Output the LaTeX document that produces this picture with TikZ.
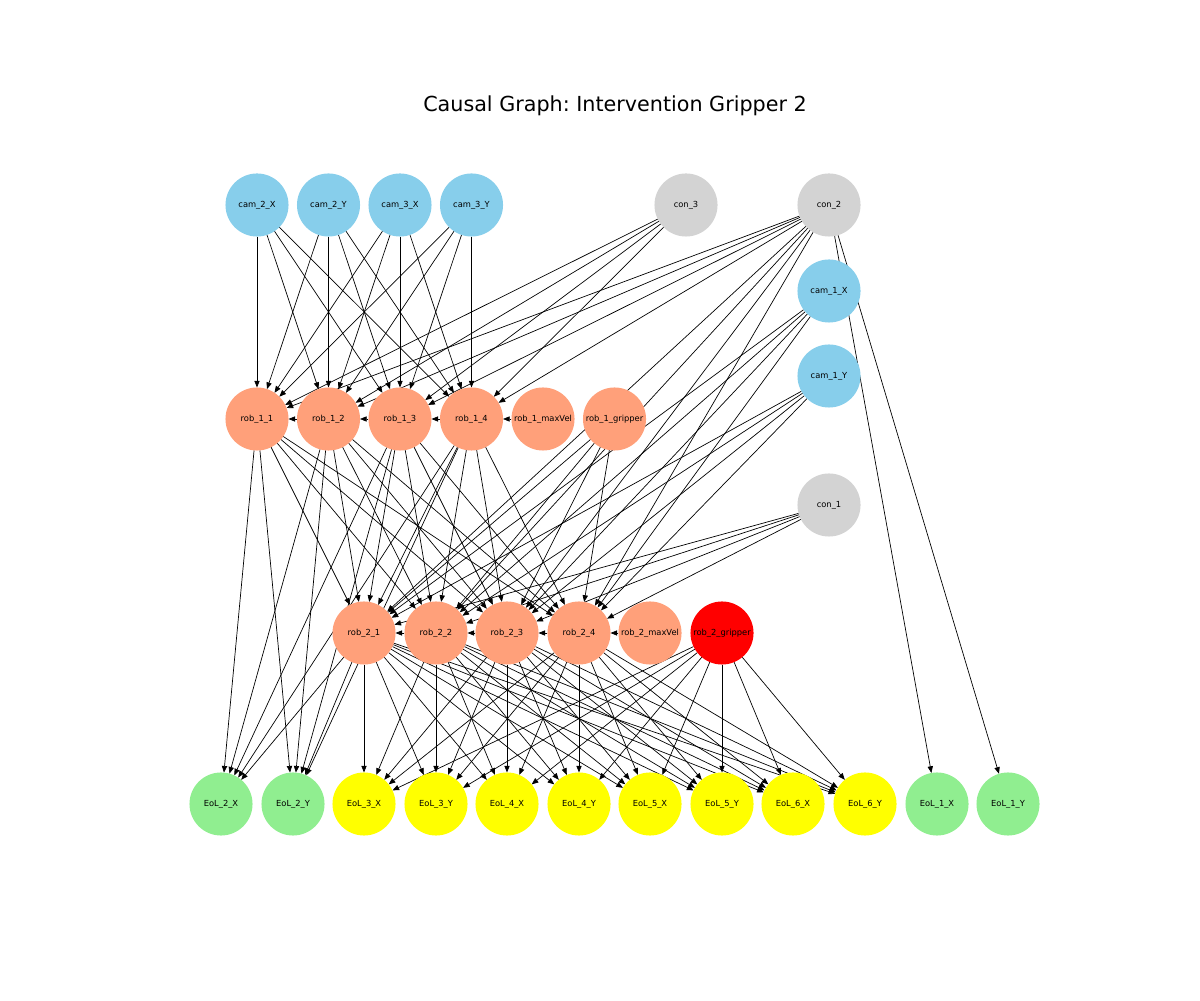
\documentclass[tikz,border=0pt]{standalone}
\usepackage{fontspec}
\setmainfont{DejaVu Sans}
\usetikzlibrary{arrows.meta,backgrounds}
\frenchspacing

\definecolor{skyblue}{RGB}{135,206,235}
\definecolor{lsalmon}{RGB}{255,160,122}
\definecolor{lgray}{RGB}{211,211,211}
\definecolor{lgreen}{RGB}{144,238,144}
\definecolor{pyellow}{RGB}{255,255,0}
\definecolor{pred}{RGB}{255,0,0}

\tikzset{
  var/.style={circle,minimum size=45.4pt,inner sep=0pt,outer sep=0pt,font=\fontsize{6}{7}\selectfont},
  cam/.style={var,fill=skyblue},
  con/.style={var,fill=lgray},
  rob/.style={var,fill=lsalmon},
  eolg/.style={var,fill=lgreen},
  eoly/.style={var,fill=pyellow},
  edge/.style={-{Triangle[length=4.8pt,width=3.8pt]},line width=0.5pt}
}

\begin{document}
\begin{tikzpicture}[x=0.72pt,y=0.72pt]
\useasboundingbox (0,0) rectangle (1200,1000);
\node[font=\fontsize{14.9}{17}\selectfont] (title) at (615,894) {Causal Graph: Intervention Gripper 2};

% cameras and contexts
\node[cam] (cam2x) at (257,795) {cam\_2\_X};
\node[cam] (cam2y) at (328.5,795) {cam\_2\_Y};
\node[cam] (cam3x) at (400,795) {cam\_3\_X};
\node[cam] (cam3y) at (471.5,795) {cam\_3\_Y};
\node[con] (con3) at (686,795) {con\_3};
\node[con] (con2) at (829,795) {con\_2};
\node[cam] (cam1x) at (829,709) {cam\_1\_X};
\node[cam] (cam1y) at (829,624) {cam\_1\_Y};
\node[con] (con1) at (829,495) {con\_1};

% robot 1
\node[rob] (rob11) at (257,581) {rob\_1\_1};
\node[rob] (rob12) at (328.5,581) {rob\_1\_2};
\node[rob] (rob13) at (400,581) {rob\_1\_3};
\node[rob] (rob14) at (471.5,581) {rob\_1\_4};
\node[rob] (rob1max) at (543,581) {rob\_1\_maxVel};
\node[rob] (rob1grip) at (614.5,581) {rob\_1\_gripper};

% robot 2
\node[rob] (rob21) at (364,367) {rob\_2\_1};
\node[rob] (rob22) at (436,367) {rob\_2\_2};
\node[rob] (rob23) at (507,367) {rob\_2\_3};
\node[rob] (rob24) at (579,367) {rob\_2\_4};
\node[rob] (rob2max) at (650,367) {rob\_2\_maxVel};
\node[var,fill=pred] (rob2grip) at (722,367) {rob\_2\_gripper};

% end of links
\node[eolg] (eol2x) at (221,196) {EoL\_2\_X};
\node[eolg] (eol2y) at (293,196) {EoL\_2\_Y};
\node[eoly] (eol3x) at (364,196) {EoL\_3\_X};
\node[eoly] (eol3y) at (436,196) {EoL\_3\_Y};
\node[eoly] (eol4x) at (507,196) {EoL\_4\_X};
\node[eoly] (eol4y) at (579,196) {EoL\_4\_Y};
\node[eoly] (eol5x) at (650,196) {EoL\_5\_X};
\node[eoly] (eol5y) at (722,196) {EoL\_5\_Y};
\node[eoly] (eol6x) at (793,196) {EoL\_6\_X};
\node[eoly] (eol6y) at (865,196) {EoL\_6\_Y};
\node[eolg] (eol1x) at (937,196) {EoL\_1\_X};
\node[eolg] (eol1y) at (1008,196) {EoL\_1\_Y};

\begin{scope}[on background layer]
% causes of robot 1
\foreach \c in {cam2x,cam2y,cam3x,cam3y,con3,con2}
  \foreach \j in {1,...,4} \draw[edge] (\c) -- (rob1\j);
% robot 1 onto robot 2 and EoL 2
\foreach \i in {1,...,4} {
  \foreach \j in {1,...,4} \draw[edge] (rob1\i) -- (rob2\j);
  \draw[edge] (rob1\i) -- (eol2x);
  \draw[edge] (rob1\i) -- (eol2y);
}
\foreach \c in {cam1x,cam1y,con1,con2,rob1grip}
  \foreach \j in {1,...,4} \draw[edge] (\c) -- (rob2\j);
% joint chains
\foreach \a/\b in {rob1max/rob14,rob14/rob13,rob13/rob12,rob12/rob11,rob2max/rob24,rob24/rob23,rob23/rob22,rob22/rob21}
  \draw[edge] (\a) -- (\b);
% robot 2 onto end of links
\foreach \s in {rob21,rob22,rob23,rob24,rob2grip}
  \foreach \e in {eol3x,eol3y,eol4x,eol4y,eol5x,eol5y,eol6x,eol6y}
    \draw[edge] (\s) -- (\e);
\draw[edge] (rob21) -- (eol2x);
\draw[edge] (rob21) -- (eol2y);
\draw[edge] (con2) -- (eol1x);
\draw[edge] (con2) -- (eol1y);
\end{scope}
\end{tikzpicture}
\end{document}
